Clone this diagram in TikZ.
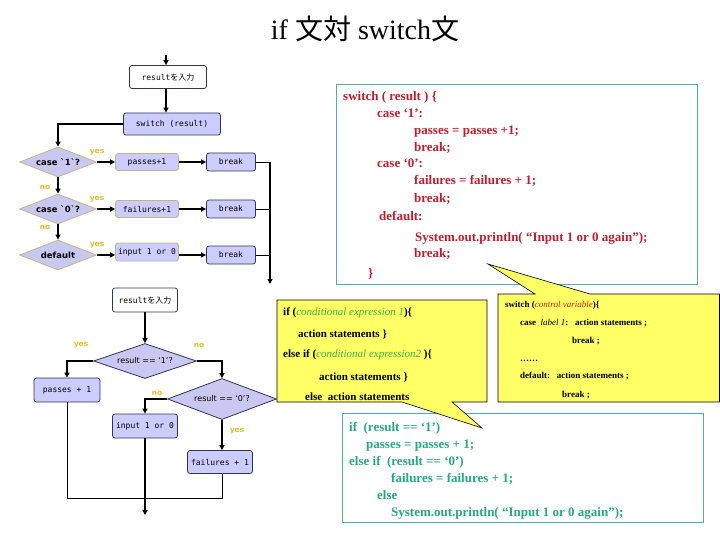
\documentclass[tikz,border=0pt]{standalone}
\usepackage{fontspec}
\setmainfont{Liberation Serif}
\newfontfamily\cjk{Noto Sans CJK JP}
\newfontfamily\monof{DejaVu Sans Mono}
\newfontfamily\dsans{DejaVu Sans}
\usetikzlibrary{shapes.geometric,arrows.meta}
\definecolor{codered}{RGB}{190,30,45}
\definecolor{codegreen}{RGB}{40,168,130}
\definecolor{boxteal}{RGB}{80,175,175}
\definecolor{italgreen}{RGB}{60,175,70}
\definecolor{italred}{RGB}{200,40,20}
\definecolor{yel}{RGB}{255,255,102}
\definecolor{lav}{RGB}{204,204,255}
\definecolor{lavd}{RGB}{200,200,240}
\definecolor{boxline}{RGB}{50,50,90}
\definecolor{tanc}{RGB}{195,180,135}
\definecolor{labc}{RGB}{215,195,40}
\newcommand{\inpt}{{\monof result}{\cjk を入力}}
\begin{document}
\begin{tikzpicture}[x=1pt,y=-1pt,
  fbox/.style={draw=boxline, rounded corners=2.5pt, fill=lav, inner sep=0pt,
    font=\monof\fontsize{8}{9}\selectfont, line width=0.8pt},
  wbox/.style={fbox, fill=white},
  tbox/.style={fbox, draw=tanc},
  fdia/.style={diamond, aspect=3, draw=tanc, fill=lavd, inner sep=0pt, line width=0.8pt,
    font=\dsans\bfseries\fontsize{8.5}{9}\selectfont},
  ldia/.style={diamond, aspect=3, draw=boxline, fill=lavd, inner sep=0pt, line width=0.8pt,
    font=\dsans\fontsize{8}{9}\selectfont},
  lab/.style={text=labc, font=\dsans\bfseries\fontsize{7.5}{8}\selectfont, inner sep=0pt},
  arr/.style={line width=1.6pt, -{Triangle[length=5pt,width=5pt]}},
  thinl/.style={line width=0.8pt},
  rcode/.style={anchor=base west, inner sep=0pt, text=codered, font=\bfseries\fontsize{13}{13}\selectfont},
  gcode/.style={anchor=base west, inner sep=0pt, text=codegreen, font=\bfseries\fontsize{13}{13}\selectfont},
  ycode/.style={anchor=base west, inner sep=0pt, text=black, font=\bfseries\fontsize{11}{11}\selectfont},
  scode/.style={anchor=base west, inner sep=0pt, text=black, font=\bfseries\fontsize{9}{9}\selectfont},
  panel/.style={draw=boxteal, fill=white, line width=1pt},
  callout/.style={draw=black, fill=yel, line width=0.6pt}
]
\useasboundingbox (0,0) rectangle (720,540);

% title
\node[font=\fontsize{28}{30}\selectfont] (title) at (365,29) {if {\cjk 文対} switch{\cjk 文}};

% ---------- upper flowchart ----------
\coordinate (top) at (166,55);
\node[wbox, minimum width=77, minimum height=23] (in1) at (168,77) {\inpt};
\node[fbox, minimum width=97, minimum height=22] (sw) at (172,124) {switch (result)};
\node[fdia, minimum width=77, minimum height=30] (d1) at (58,162) {case `1`?};
\node[fdia, minimum width=77, minimum height=30] (d2) at (58,209) {case `0`?};
\node[fdia, minimum width=77, minimum height=30] (d3) at (58,255) {default};
\node[tbox, minimum width=63, minimum height=17] (p1) at (147,162) {passes+1};
\node[tbox, minimum width=63, minimum height=17] (f1) at (147,209) {failures+1};
\node[tbox, minimum width=63, minimum height=18] (i1) at (147,252) {input 1 or 0};
\node[fbox, minimum width=49, minimum height=18] (b1) at (231,162) {break};
\node[fbox, minimum width=49, minimum height=18] (b2) at (231,209) {break};
\node[fbox, minimum width=49, minimum height=18] (b3) at (231,255) {break};
\coordinate (m1) at (270,162);
\coordinate (m2) at (270,209);
\coordinate (m3) at (270,255);
\coordinate (mend) at (270,284);

\draw[arr] (top) -- (in1.north -| top);
\draw[arr] (in1.south -| top) -- (sw.north -| top);
\draw[arr] (sw.west) -| (d1.north);
\draw[arr] (d1.east) -- (p1.west);
\draw[arr] (d2.east) -- (f1.west);
\draw[arr] (d3.east) -- (d3.east -| i1.west);
\draw[arr] (p1.east) -- (b1.west);
\draw[arr] (f1.east) -- (b2.west);
\draw[arr] (i1.east |- b3.west) -- (b3.west);
\draw[arr] (d1.south) -- (d2.north);
\draw[arr] (d2.south) -- (d3.north);
\draw[thinl] (b1.east) -- (m1);
\draw[thinl] (b2.east) -- (m2);
\draw[thinl] (b3.east) -- (m3);
\draw[arr] (m1) -- (mend);

\node[lab] (y1) at (97,152) {yes};
\node[lab] (y2) at (97,199) {yes};
\node[lab] (y3) at (97,245) {yes};
\node[lab] (n1) at (45,187) {no};
\node[lab] (n2) at (45,227) {no};

% ---------- lower flowchart ----------
\node[wbox, minimum width=65, minimum height=24] (in2) at (145,300) {\inpt};
\node[ldia, minimum width=103, minimum height=35] (dd1) at (145,361) {result == ‘1’?};
\node[fbox, minimum width=66, minimum height=24] (pp) at (67,390) {passes + 1};
\node[ldia, minimum width=109, minimum height=41] (dd2) at (222,399) {result == ‘0’?};
\node[fbox, minimum width=65, minimum height=24] (ii) at (145,426) {input 1 or 0};
\node[fbox, minimum width=65, minimum height=23] (ff) at (220,462) {failures + 1};
\coordinate (jn) at (67,498);
\coordinate (bend) at (145,515);

\draw[arr] (in2.south) -- (dd1.north);
\draw[arr] (dd1.west) -| (pp.north);
\draw[arr] (dd1.east) -| (dd2.north);
\draw[arr] (dd2.west) -| (ii.north);
\draw[arr] (dd2.south) -- (dd2.south |- ff.north);
\draw[thinl] (pp.south) -- (jn) -| (dd2.south |- ff.south);
\draw[arr] (ii.south) -- (bend);

\node[lab] (ly1) at (81,345) {yes};
\node[lab] (ln1) at (199,345) {no};
\node[lab] (ln2) at (157,393) {no};
\node[lab] (ly2) at (237,431) {yes};

% ---------- switch code panel ----------
\node[panel, minimum width=361, minimum height=200, anchor=north west] (swp) at (336,84) {};
\node[rcode] (r1) at (343,101) {switch ( result ) \{};
\node[rcode] (r2) at (377,118) {case ‘1’:};
\node[rcode] (r3) at (414,135) {passes = passes +1;};
\node[rcode] (r4) at (414,152) {break;};
\node[rcode] (r5) at (377,168) {case ‘0’:};
\node[rcode] (r6) at (414,185) {failures = failures + 1;};
\node[rcode] (r7) at (414,203) {break;};
\node[rcode] (r8) at (379,221) {default:};
\node[rcode] (r9) at (415,241) {System.out.println( “Input 1 or 0 again”);};
\node[rcode] (r10) at (414,258) {break;};
\node[rcode] (r11) at (368,277) {\}};

% ---------- if code panel ----------
\node[panel, minimum width=361, minimum height=109, anchor=north west] (ifp) at (342,413) {};
\node[gcode] (g1) at (349,431) {if\ \ (result == ‘1’)};
\node[gcode] (g2) at (366,448) {passes = passes + 1;};
\node[gcode] (g3) at (349,465) {else if\ \ (result == ‘0’)};
\node[gcode] (g4) at (391,482) {failures = failures + 1;};
\node[gcode] (g5) at (377,499) {else};
\node[gcode] (g6) at (391,516) {System.out.println( “Input 1 or 0 again”);};

% ---------- callout 1 ----------
\draw[callout] (277,300) -- (487,300) -- (487,402) -- (452,402) -- (482,428) -- (402,402) -- (277,402) -- cycle;
\node[ycode] (c1) at (283,315) {if (\textcolor{italgreen}{\mdseries\itshape conditional expression 1})\{};
\node[ycode] (c2) at (298,337) {action statements \}};
\node[ycode] (c3) at (283,357) {else if (\textcolor{italgreen}{\mdseries\itshape conditional expression2 })\{};
\node[ycode] (c4) at (319,380) {action statements \}};
\node[ycode] (c5) at (305,400) {else\ \ action statements};

% ---------- callout 2 ----------
\draw[callout] (498,294) -- (535,294) -- (488,264) -- (590,294) -- (719.5,294) -- (719.5,402) -- (498,402) -- cycle;
\node[scode] (s1) at (505,307) {switch (\textcolor{italred}{\mdseries\itshape control variable})\{};
\node[scode] (s2) at (520,325) {case\ \ {\mdseries\itshape label 1}:\ \ \ action statements ;};
\node[scode] (s3) at (572,343) {break ;};
\node[scode] (s4) at (520,361) {……};
\node[scode] (s5) at (520,378) {default:\ \ \ action statements ;};
\node[scode] (s6) at (562,397) {break ;};
\end{tikzpicture}
\end{document}
